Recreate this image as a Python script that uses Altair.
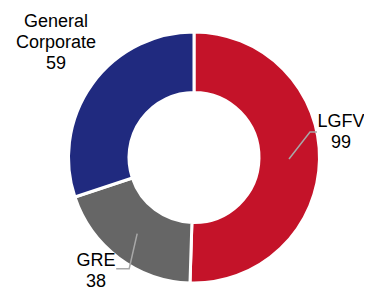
import math
import altair as alt
import pandas as pd

# ---- data ----
categories = ["LGFV", "GRE", "General Corporate"]
values = [99, 38, 59]
colors = ["#C41329", "#666666", "#202A7F"]
label_texts = ["LGFV\n99", "GRE\n38", "General\nCorporate\n59"]

# ---- layout ----
W, H = 356, 284
CX, CY = 186, 149.5
R_OUT, R_IN = 125.5, 65
LEAD_R = 95
elbow_offsets = {"LGFV": (21, -27, 7), "GRE": (-8, 35, -13)}
label_pos = {"LGFV": (333, 119), "GRE": (88, 258), "General Corporate": (48, 19)}

df = pd.DataFrame({"category": categories, "value": values, "order": list(range(len(categories)))})

# leader lines computed from slice mid-angles
total = sum(values)
rows = []
cum = 0
for c, v in zip(categories, values):
    mid = (cum + v / 2) / total * 2 * math.pi
    cum += v
    if c in elbow_offsets:
        x0 = CX + LEAD_R * math.sin(mid)
        y0 = CY - LEAD_R * math.cos(mid)
        dx, dy, hx = elbow_offsets[c]
        pts = [(x0, y0), (x0 + dx, y0 + dy), (x0 + dx + hx, y0 + dy)]
        for i, (px, py) in enumerate(pts):
            rows.append({"category": c, "seq": i, "px": px, "py": py})
lines_df = pd.DataFrame(rows)

labels_df = pd.DataFrame({
    "category": categories,
    "text": label_texts,
    "lx": [label_pos[c][0] for c in categories],
    "ly": [label_pos[c][1] for c in categories],
})

xscale = alt.Scale(domain=[0, W], nice=False, zero=False)
yscale = alt.Scale(domain=[H, 0], nice=False, zero=False)

arcs = alt.Chart(df).mark_arc(
    outerRadius=R_OUT, innerRadius=R_IN, stroke="white", strokeWidth=3
).encode(
    theta=alt.Theta("value:Q", stack=True),
    order=alt.Order("order:Q"),
    color=alt.Color("category:N", scale=alt.Scale(domain=categories, range=colors), legend=None),
    x=alt.value(CX),
    y=alt.value(CY),
)

leaders = alt.Chart(lines_df).mark_line(color="#A8A8A8", strokeWidth=1.5).encode(
    x=alt.X("px:Q", scale=xscale, axis=None),
    y=alt.Y("py:Q", scale=yscale, axis=None),
    detail="category:N",
    order="seq:Q",
)

texts = alt.Chart(labels_df).mark_text(
    font="Liberation Sans", fontSize=18, color="black", align="center",
    baseline="alphabetic", lineBreak="\n", lineHeight=21
).encode(
    x=alt.X("lx:Q", scale=xscale, axis=None),
    y=alt.Y("ly:Q", scale=yscale, axis=None),
    text="text:N",
)

chart = alt.layer(arcs, leaders, texts).properties(
    width=W, height=H, padding=0, autosize=alt.AutoSizeParams(type="none")
).configure_view(stroke=None)

chart.save("out.html", embed_options={"renderer": "svg", "actions": False})
